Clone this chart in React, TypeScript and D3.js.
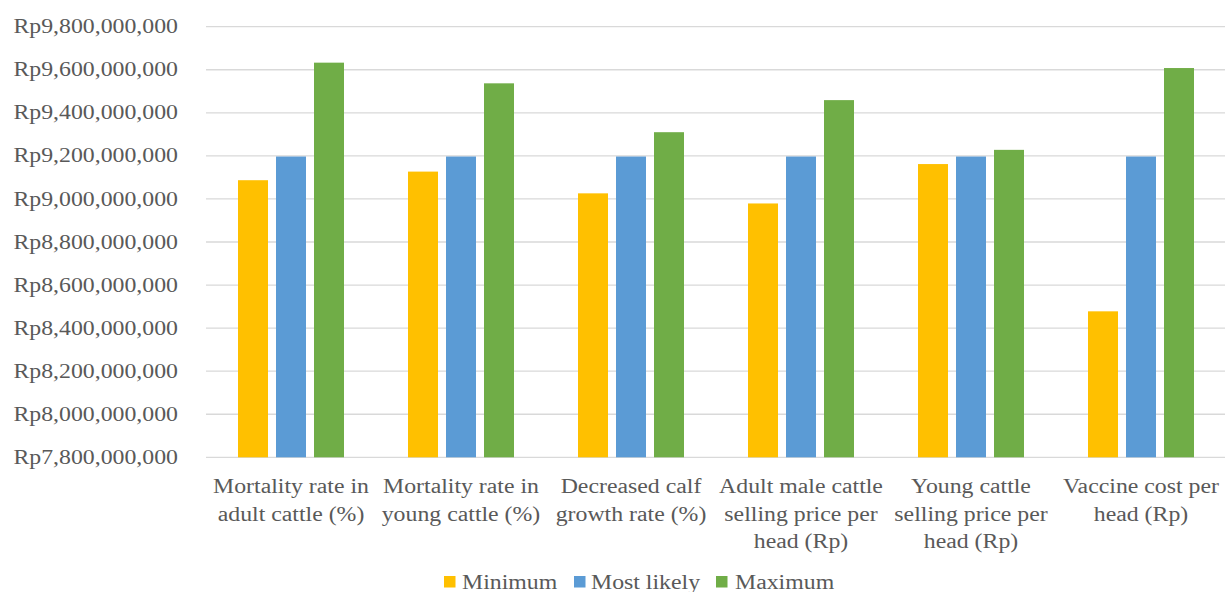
import React from "react";
import * as d3 from "d3";

const categories = [
  "Mortality rate in\nadult cattle (%)",
  "Mortality rate in\nyoung cattle (%)",
  "Decreased calf\ngrowth rate (%)",
  "Adult male cattle\nselling price per\nhead (Rp)",
  "Young cattle\nselling price per\nhead (Rp)",
  "Vaccine cost per\nhead (Rp)",
];
const seriesNames = ["Minimum", "Most likely", "Maximum"];
const minimum = [9087000000, 9127000000, 9026000000, 8979000000, 9162000000, 8478000000];
const mostLikely = [9197000000, 9197000000, 9197000000, 9197000000, 9197000000, 9197000000];
const maximum = [9633000000, 9537000000, 9310000000, 9459000000, 9228000000, 9608000000];
const yTicks = [7800000000, 8000000000, 8200000000, 8400000000, 8600000000, 8800000000, 9000000000, 9200000000, 9400000000, 9600000000, 9800000000];
const colors = ["#FFC000", "#5B9BD5", "#70AD47"];

const W = 1225;
const H = 592;
const FONT = "Liberation Serif";
const FS = 21.1;
const SX = 1.128;

function T({ x, y, anchor, children }: { x: number; y: number; anchor?: string; children: React.ReactNode }) {
  return (
    <text
      transform={`translate(${x},${y}) scale(${SX},1)`}
      textAnchor={anchor || "start"}
      style={{ fontFamily: FONT }}
      fontSize={FS}
      fill="#595959"
    >
      {children}
    </text>
  );
}

export default function App() {
  const series = [minimum, mostLikely, maximum];
  const x = d3.scaleBand<number>().domain(d3.range(categories.length)).range([206, 1226]).padding(0);
  const inner = d3
    .scaleBand<number>()
    .domain([0, 1, 2])
    .range([32, x.bandwidth() - 32])
    .paddingInner(8 / 38)
    .paddingOuter(0);
  const y = d3.scaleLinear().domain([7800000000, 9800000000]).range([457.3, 26.7]);
  const fmt = (v: number) => "Rp" + d3.format(",")(v);

  const legendItems = [
    { x: 444, tx: 462 },
    { x: 574, tx: 591 },
    { x: 716, tx: 735 },
  ];

  return (
    <svg width={W} height={H} style={{ position: "absolute", left: 0, top: 0, background: "#fff" }}>
      <rect x={0} y={0} width={W} height={H} fill="#fff" />
      {yTicks.map((t) => (
        <g key={t}>
          <line x1={206} x2={1226} y1={y(t)} y2={y(t)} stroke="#d9d9d9" strokeWidth={1.3} />
          <T x={178} y={y(t) + 6.6} anchor="end">
            {fmt(t)}
          </T>
        </g>
      ))}
      {categories.map((c, i) => (
        <g key={c} transform={`translate(${x(i)},0)`}>
          {series.map((s, j) => (
            <rect
              key={j}
              x={inner(j)}
              width={inner.bandwidth()}
              y={y(s[i])}
              height={y(7800000000) - y(s[i])}
              fill={colors[j]}
            />
          ))}
          {c.split("\n").map((line, k) => (
            <T key={k} x={x.bandwidth() / 2} y={493.3 + k * 27.5} anchor="middle">
              {line}
            </T>
          ))}
        </g>
      ))}
      {seriesNames.map((n, j) => (
        <g key={n}>
          <rect x={legendItems[j].x} y={576} width={11.5} height={11.5} fill={colors[j]} />
          <T x={legendItems[j].tx} y={589}>
            {n}
          </T>
        </g>
      ))}
    </svg>
  );
}
